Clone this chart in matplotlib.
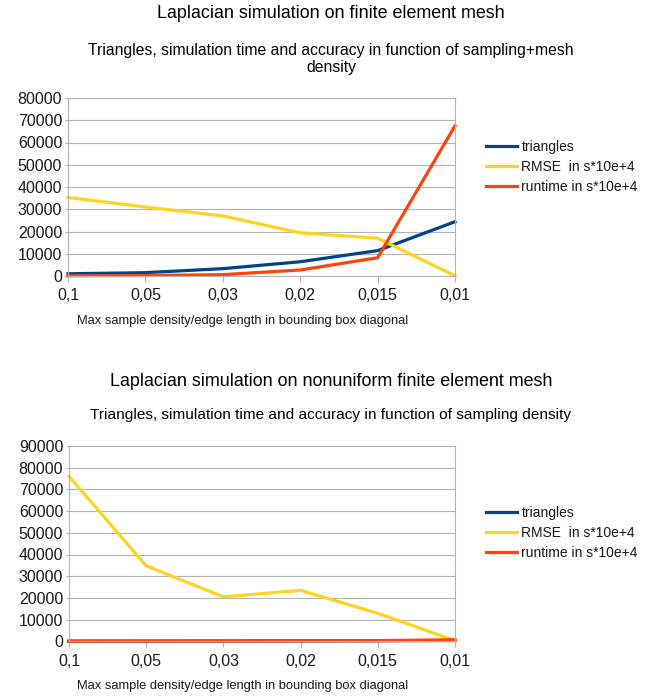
import matplotlib
matplotlib.use("Agg")
import matplotlib.pyplot as plt

plt.rcParams['font.family'] = ['Liberation Sans', 'DejaVu Sans']

categories = ["0,1", "0,05", "0,03", "0,02", "0,015", "0,01"]
series_names = ["triangles", "RMSE  in s*10e+4", "runtime in s*10e+4"]

# Chart 1: uniform mesh
tri1 = [1000, 1500, 3300, 6400, 11400, 24400]
rmse1 = [35300, 31000, 27000, 19400, 17000, 100]
run1 = [100, 200, 600, 2700, 8200, 67500]

# Chart 2: nonuniform mesh
tri2 = [60, 90, 130, 180, 250, 350]
rmse2 = [76000, 34800, 20500, 23500, 12900, 300]
run2 = [80, 120, 160, 220, 300, 700]

colors = ["#004586", "#ffd320", "#ff420e"]
W, H = 662, 697
fig = plt.figure(figsize=(W / 100, H / 100), dpi=100)

def make_chart(box, series, ymax, ystep, title, subtitle, title_y, sub_y, xlabel_y, legend_y,
               sub_size):
    x0, y0, x1, y1 = box
    ax = fig.add_axes([x0 / W, 1 - y1 / H, (x1 - x0) / W, (y1 - y0) / H])
    xs = list(range(len(categories)))
    for vals, c, name in zip(series, colors, series_names):
        ax.plot(xs, vals, color=c, lw=2.3, label=name, solid_joinstyle='round', clip_on=False)
    ax.set_xlim(0, len(categories) - 1)
    ax.set_ylim(0, ymax)
    ax.set_yticks(range(0, ymax + 1, ystep))
    ax.set_xticks(xs)
    ax.set_xticklabels(categories)
    ax.grid(axis='y', color='#b3b3b3', lw=0.8)
    ax.set_axisbelow(True)
    for s in ax.spines.values():
        s.set_color('#b3b3b3')
        s.set_linewidth(0.8)
    ax.spines['top'].set_visible(False)
    ax.tick_params(axis='both', colors='#b3b3b3', labelcolor='#1a1a1a', labelsize=11.5, width=0.8)
    ax.tick_params(axis='x', length=4, pad=5)
    ax.tick_params(axis='y', length=2.2, pad=2)
    fig.text(331 / W, 1 - title_y / H, title, ha='center', va='center', fontsize=12.9, color='#000000')
    fig.text(331 / W, 1 - sub_y / H, subtitle, ha='center', va='center', fontsize=sub_size, color='#000000',
             linespacing=1.2)
    fig.text(243 / W, 1 - xlabel_y / H, "Max sample density/edge length in bounding box diagonal",
             ha='center', va='center', fontsize=9.3, color='#1a1a1a')
    leg = ax.legend(loc='center left', bbox_to_anchor=((486 - x0) / (x1 - x0), (y1 - legend_y) / (y1 - y0)),
                    frameon=False, fontsize=10, handlelength=2.2, handletextpad=0.35,
                    labelspacing=0.45, borderaxespad=0, borderpad=0)
    for t in leg.get_texts():
        t.set_color('#1a1a1a')
    return ax

make_chart((68, 98, 455, 276), [tri1, rmse1, run1], 80000, 10000,
           "Laplacian simulation on finite element mesh",
           "Triangles, simulation time and accuracy in function of sampling+mesh\ndensity",
           14, 59, 321, 167, 11.3)
make_chart((69, 446, 455, 641.3), [tri2, rmse2, run2], 90000, 10000,
           "Laplacian simulation on nonuniform finite element mesh",
           "Triangles, simulation time and accuracy in function of sampling density",
           381, 415, 686, 533, 11.1)

fig.savefig("out.png", dpi=100)
